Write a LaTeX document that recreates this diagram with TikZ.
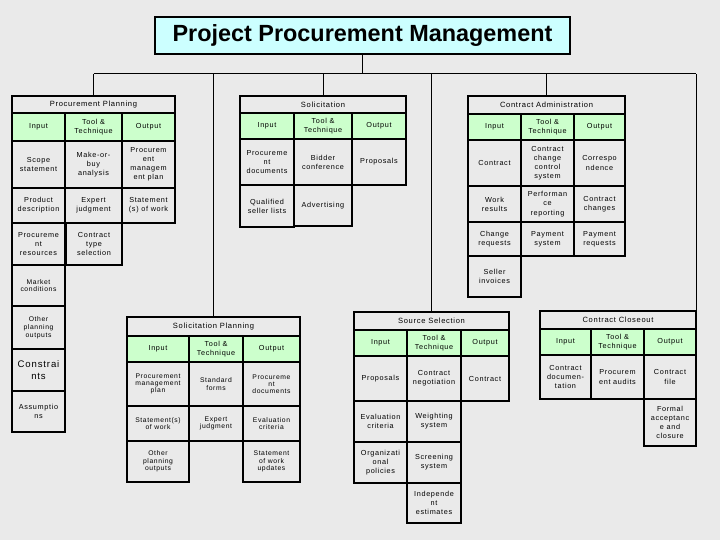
\documentclass[tikz,border=0pt]{standalone}
\usepackage{fontspec}
\setmainfont{Liberation Sans}
\newfontfamily\cellfont[LetterSpace=9]{Liberation Sans}
\definecolor{bg}{HTML}{EAEAEA}
\definecolor{hdgreen}{HTML}{CCFFCC}
\definecolor{titlecyan}{HTML}{CCFFFF}
\tikzset{
  cellbox/.style={draw=black, line width=1.6bp, fill=bg, align=center, inner sep=1bp, outer sep=0pt,
    font=\cellfont\fontsize{7.3}{9.2}\selectfont},
  greencell/.style={fill=hdgreen},
  headcell/.style={font=\cellfont\fontsize{7.6}{9}\selectfont},
  smallcell/.style={font=\cellfont\fontsize{6.8}{7.8}\selectfont},
  bigcell/.style={font=\cellfont\fontsize{9.6}{12}\selectfont},
  spcell/.style={font=\cellfont\fontsize{6.8}{7.3}\selectfont},
  conn/.style={draw=black, line width=1bp},
}
\newcommand\mycell[7][]{%
  \pgfmathsetmacro\cw{#5-#3}\pgfmathsetmacro\ch{#6-#4}%
  \node[cellbox,#1,minimum width=\cw bp,minimum height=\ch bp] (#2) at ({(#3+#5)/2},{(#4+#6)/2}) {#7};}
\begin{document}
\begin{tikzpicture}[x=1bp,y=-1bp]
\fill[bg] (0,0) rectangle (720,540);
\useasboundingbox (0,0) rectangle (720,540);
% title
\node[draw=black, line width=1.5bp, fill=titlecyan, minimum width=415bp, minimum height=37bp, inner sep=0pt,
  font=\fontsize{23.5}{26}\selectfont\bfseries] (title) at (362.5,35.5) {Project Procurement Management};

% Procurement Planning
\mycell[headcell]{ppH}{12}{96}{175}{113}{Procurement Planning}
\mycell[greencell]{ppI}{12}{113}{65}{141}{Input}
\mycell[greencell]{ppT}{65}{113}{122}{141}{Tool \&\\Technique}
\mycell[greencell]{ppO}{122}{113}{175}{141}{Output}
\mycell{pp11}{12}{141}{65}{188}{Scope\\statement}
\mycell{pp12}{65}{141}{122}{188}{Make-or-\\buy\\analysis}
\mycell{pp13}{122}{141}{175}{188}{Procurem\\ent\\managem\\ent plan}
\mycell{pp21}{12}{188}{65}{223}{Product\\description}
\mycell{pp22}{65}{188}{122}{223}{Expert\\judgment}
\mycell{pp23}{122}{188}{175}{223}{Statement\\(s) of work}
\mycell{pp31}{12}{223}{65}{265}{Procureme\\nt\\resources}
\mycell{pp32}{66}{223}{122}{265}{Contract\\type\\selection}
\mycell[smallcell]{pp41}{12}{265}{65}{306}{Market\\conditions}
\mycell[smallcell]{pp51}{12}{306}{65}{349}{Other\\planning\\outputs}
\mycell[bigcell]{pp61}{12}{349}{65}{391}{Constrai\\nts}
\mycell{pp71}{12}{391}{65}{432}{Assumptio\\ns}

% Solicitation
\mycell[headcell]{soH}{240}{96}{406}{113}{Solicitation}
\mycell[greencell]{soI}{240}{113}{294}{139}{Input}
\mycell[greencell]{soT}{294}{113}{352}{139}{Tool \&\\Technique}
\mycell[greencell]{soO}{352}{113}{406}{139}{Output}
\mycell{so11}{240}{139}{294}{185}{Procureme\\nt\\documents}
\mycell{so12}{294}{139}{352}{185}{Bidder\\conference}
\mycell{so13}{352}{139}{406}{185}{Proposals}
\mycell{so21}{240}{185}{294}{227}{Qualified\\seller lists}
\mycell{so22}{294}{185}{352}{226}{Advertising}

% Contract Administration
\mycell[headcell]{caH}{468}{96}{625}{114}{Contract Administration}
\mycell[greencell]{caI}{468}{114}{521}{140}{Input}
\mycell[greencell]{caT}{521}{114}{574}{140}{Tool \&\\Technique}
\mycell[greencell]{caO}{574}{114}{625}{140}{Output}
\mycell{ca11}{468}{140}{521}{186}{Contract}
\mycell{ca12}{521}{140}{574}{186}{Contract\\change\\control\\system}
\mycell{ca13}{574}{140}{625}{186}{Correspo\\ndence}
\mycell{ca21}{468}{186}{521}{222}{Work\\results}
\mycell{ca22}{521}{186}{574}{222}{Performan\\ce\\reporting}
\mycell{ca23}{574}{186}{625}{222}{Contract\\changes}
\mycell{ca31}{468}{222}{521}{256}{Change\\requests}
\mycell{ca32}{521}{222}{574}{256}{Payment\\system}
\mycell{ca33}{574}{222}{625}{256}{Payment\\requests}
\mycell{ca41}{468}{256}{521}{297}{Seller\\invoices}

% Solicitation Planning
\mycell[headcell]{spH}{127}{317}{300}{336}{Solicitation Planning}
\mycell[greencell]{spI}{127}{336}{189}{362}{Input}
\mycell[greencell]{spT}{189}{336}{243}{362}{Tool \&\\Technique}
\mycell[greencell]{spO}{243}{336}{300}{362}{Output}
\mycell[spcell]{sp11}{127}{362}{189}{406}{Procurement\\management\\plan}
\mycell[spcell]{sp12}{189}{362}{243}{406}{Standard\\forms}
\mycell[spcell]{sp13}{243}{362}{300}{406}{Procureme\\nt\\documents}
\mycell[spcell]{sp21}{127}{406}{189}{441}{Statement(s)\\of work}
\mycell[spcell]{sp22}{189}{406}{243}{441}{Expert\\judgment}
\mycell[spcell]{sp23}{243}{406}{300}{441}{Evaluation\\criteria}
\mycell[spcell]{sp31}{127}{441}{189}{482}{Other\\planning\\outputs}
\mycell[spcell]{sp33}{243}{441}{300}{482}{Statement\\of work\\updates}

% Source Selection
\mycell[headcell]{ssH}{354}{312}{509}{330}{Source Selection}
\mycell[greencell]{ssI}{354}{330}{407}{356}{Input}
\mycell[greencell]{ssT}{407}{330}{461}{356}{Tool \&\\Technique}
\mycell[greencell]{ssO}{461}{330}{509}{356}{Output}
\mycell{ss11}{354}{356}{407}{401}{Proposals}
\mycell{ss12}{407}{356}{461}{401}{Contract\\negotiation}
\mycell{ss13}{461}{356}{509}{401}{Contract}
\mycell{ss21}{354}{401}{407}{442}{Evaluation\\criteria}
\mycell{ss22}{407}{401}{461}{442}{Weighting\\system}
\mycell{ss31}{354}{442}{407}{483}{Organizati\\onal\\policies}
\mycell{ss32}{407}{442}{461}{483}{Screening\\system}
\mycell{ss42}{407}{483}{461}{523}{Independe\\nt\\estimates}

% Contract Closeout
\mycell[headcell]{ccH}{540}{311}{696}{329}{Contract Closeout}
\mycell[greencell]{ccI}{540}{329}{591}{355}{Input}
\mycell[greencell]{ccT}{591}{329}{644}{355}{Tool \&\\Technique}
\mycell[greencell]{ccO}{644}{329}{696}{355}{Output}
\mycell{cc11}{540}{355}{591}{399}{Contract\\documen-\\tation}
\mycell{cc12}{591}{355}{644}{399}{Procurem\\ent audits}
\mycell{cc13}{644}{355}{696}{399}{Contract\\file}
\mycell{cc23}{644}{399}{696}{446}{Formal\\acceptanc\\e and\\closure}

% connectors
\coordinate (busL) at (ppH.north |- 0,74);
\coordinate (busR) at (ccH.north east |- 0,74);
\draw[conn] (title.south) -- (title.south |- busL);
\draw[conn] (busL) -- (busR);
\draw[conn] (ppH.north) -- (ppH.north |- busL);
\draw[conn] (spH.north) -- (spH.north |- busL);
\draw[conn] (soH.north) -- (soH.north |- busL);
\draw[conn] (ssH.north) -- (ssH.north |- busL);
\draw[conn] (caH.north) -- (caH.north |- busL);
\draw[conn] (ccH.north east) -- (busR);
\end{tikzpicture}
\end{document}
